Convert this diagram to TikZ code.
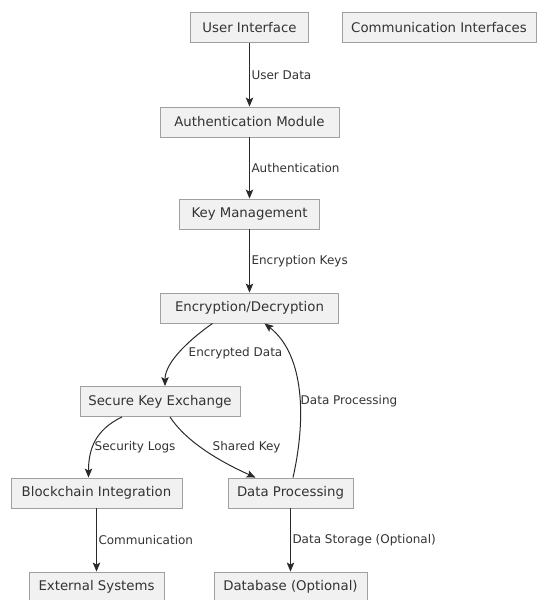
\documentclass[tikz,border=0pt]{standalone}
\usepackage{fontspec}
\setmainfont{DejaVu Sans}
\usetikzlibrary{arrows.meta}
\definecolor{boxfill}{HTML}{F1F1F1}
\definecolor{boxline}{HTML}{A0A0A0}
\definecolor{ink}{HTML}{333333}
\definecolor{wire}{HTML}{2A2A2A}
\tikzset{
  block/.style={draw=boxline, fill=boxfill, line width=0.9pt, text=ink,
    minimum height=30pt, inner xsep=6pt, inner ysep=0pt,
    font=\fontsize{13.3}{16}\selectfont},
  lbl/.style={text=ink, font=\fontsize{12}{14}\selectfont, inner sep=1.5pt},
  flow/.style={draw=wire, line width=1pt,
    -{Stealth[length=9pt,width=7.5pt,inset=2pt]}}
}
\begin{document}
\begin{tikzpicture}[x=1pt,y=1pt]
\useasboundingbox (0,0) rectangle (545,-600);

% components
\node[block, minimum width=118pt] (ui)   at (249.5,-27.5) {User Interface};
\node[block, minimum width=194pt] (ci)   at (439,-27.5) {Communication Interfaces};
\node[block, minimum width=179pt] (auth) at (249.5,-122) {Authentication Module};
\node[block, minimum width=140pt] (km)   at (249.5,-214) {Key Management};
\node[block, minimum width=178pt] (enc)  at (249.5,-308) {Encryption/Decryption};
\node[block, minimum width=160pt] (ske)  at (160,-401.5) {Secure Key Exchange};
\node[block, minimum width=171pt] (bi)   at (96.5,-493) {Blockchain Integration};
\node[block, minimum width=125pt] (dp)   at (290.5,-493) {Data Processing};
\node[block, minimum width=135pt] (es)   at (96.5,-587) {External Systems};
\node[block, minimum width=153pt] (db)   at (290.5,-587) {Database (Optional)};

% main chain
\draw[flow] (ui) -- (auth)
  node[lbl, midway, anchor=west] {User Data};
\draw[flow] (auth) -- (km)
  node[lbl, midway, anchor=west] {Authentication};
\draw[flow] (km) -- (enc)
  node[lbl, midway, anchor=west] {Encryption Keys};

% key exchange and processing
\draw[flow] ([xshift=-37pt]enc.south) .. controls +(-20,-14) and +(0,25) .. ([xshift=5pt]ske.north);
\node[lbl, anchor=west] at (187,-353) {Encrypted Data};

\draw[flow] ([xshift=2.5pt]dp.north) .. controls (306,-420) and (305,-355) .. ([xshift=15pt]enc.south);
\node[lbl, anchor=west] at (299,-401) {Data Processing};

\draw[flow] ([xshift=-38pt]ske.south) .. controls +(-27,-13) and +(0,28) .. ([xshift=-8pt]bi.north);
\node[lbl, anchor=west] at (93,-447) {Security Logs};

\draw[flow] ([xshift=10pt]ske.south) .. controls +(15,-23) and +(-40,18) .. ([xshift=-35pt]dp.north);
\node[lbl, anchor=west] at (211,-447) {Shared Key};

% outputs
\draw[flow] (bi) -- (es)
  node[lbl, midway, anchor=west] {Communication};
\draw[flow] (dp) -- (db)
  node[lbl, midway, anchor=west] {Data Storage (Optional)};
\end{tikzpicture}
\end{document}
